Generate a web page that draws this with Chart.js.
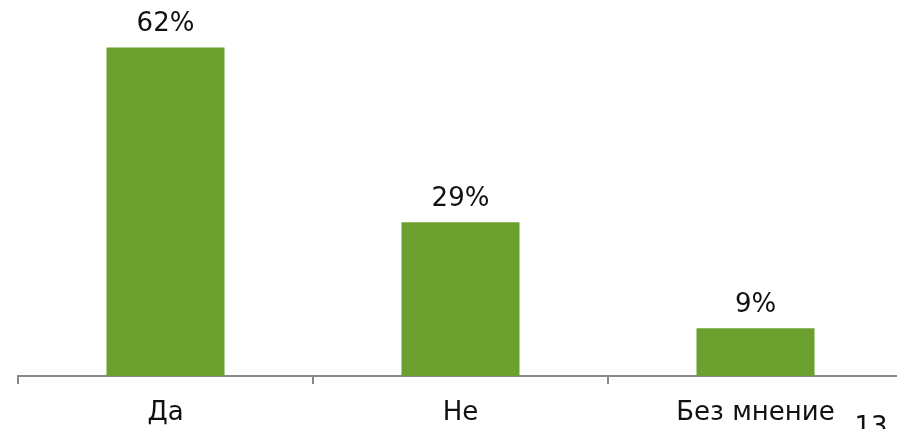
<!DOCTYPE html>
<html>
<head>
<meta charset="utf-8">
<script src="https://cdn.jsdelivr.net/npm/chart.js@4"></script>
<style>
  html, body { margin: 0; padding: 0; background: #fff; overflow: hidden; }
  #wrap { position: relative; width: 903px; height: 429px; }
</style>
</head>
<body>
<div id="wrap"><canvas id="grafica"></canvas></div>
<script>
const categorias = ["Да", "Не", "Без мнение"];
const valores = [62, 29, 9];
const numeroPagina = "13";

const fuente = "'DejaVu Sans', Verdana, sans-serif";

const etiquetasPlugin = {
  id: "etiquetas",
  afterDatasetsDraw(chart) {
    const ctx = chart.ctx;
    const meta = chart.getDatasetMeta(0);
    ctx.save();
    ctx.fillStyle = "#111";
    ctx.font = "26px " + fuente;
    ctx.textAlign = "center";
    ctx.textBaseline = "alphabetic";
    meta.data.forEach(function(barra, i) {
      ctx.fillText(valores[i] + "%", barra.x, barra.y - 16);
    });
    ctx.fillText(numeroPagina, 871, 435);
    ctx.restore();
  }
};

new Chart(document.getElementById("grafica"), {
  type: "bar",
  data: {
    labels: categorias,
    datasets: [{
      data: valores,
      backgroundColor: "#6b9f2e",
      barPercentage: 0.4,
      categoryPercentage: 1
    }]
  },
  options: {
    responsive: true,
    maintainAspectRatio: false,
    animation: false,
    layout: { padding: { top: 5, left: 18, right: 0, bottom: 0 } },
    plugins: { legend: { display: false }, tooltip: { enabled: false } },
    scales: {
      x: {
        afterFit: function(scale) { scale.height = 53; },
        border: { color: "#888", width: 2 },
        grid: {
          offset: true,
          drawOnChartArea: false,
          drawTicks: true,
          tickLength: 8,
          color: "#888",
          lineWidth: 2
        },
        ticks: {
          color: "#111",
          font: { family: fuente, size: 26 },
          padding: 14,
          maxRotation: 0
        }
      },
      y: {
        display: false,
        min: 0,
        max: 70
      }
    }
  },
  plugins: [etiquetasPlugin]
});
</script>
</body>
</html>
